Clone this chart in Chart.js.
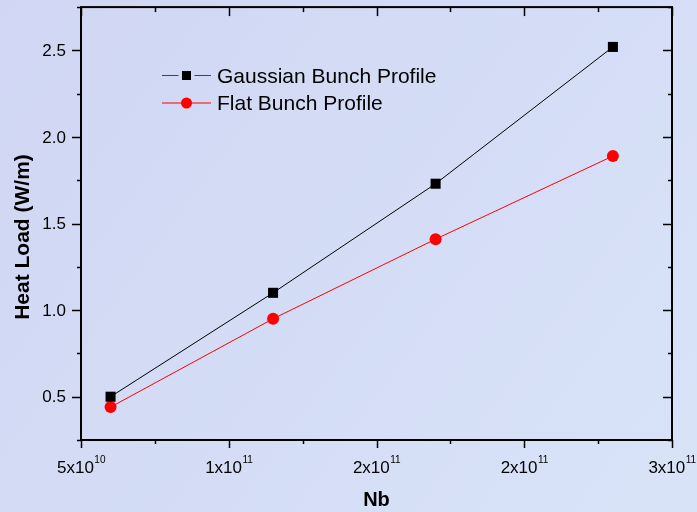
<!DOCTYPE html>
<html>
<head>
<meta charset="utf-8">
<script src="https://cdn.jsdelivr.net/npm/chart.js@4.4.1/dist/chart.umd.min.js"></script>
<style>
  html, body { margin: 0; padding: 0; background: #d5dcf5; }
  #wrap { width: 697px; height: 512px; }
</style>
</head>
<body>
<div id="wrap"><canvas id="c" width="697" height="512"></canvas></div>
<script>
// datos
const nb = [0.6e11, 1.15e11, 1.7e11, 2.3e11];
const gaussianLoad = [0.50, 1.10, 1.73, 2.52];
const flatLoad = [0.44, 0.95, 1.41, 1.89];
const seriesNames = ['Gaussian Bunch Profile', 'Flat Bunch Profile'];

// ticks (Origin redondea 1.5e11 y 2.5e11)
const xTicks = [0.5e11, 1e11, 1.5e11, 2e11, 2.5e11];
const xTickBase = ['5x10', '1x10', '2x10', '2x10', '3x10'];
const xTickExp = ['10', '11', '11', '11', '11'];
const yTicks = [0.5, 1.0, 1.5, 2.0, 2.5];
const yTickLabels = ['0.5', '1.0', '1.5', '2.0', '2.5'];
const xTitle = 'Nb';
const yTitle = 'Heat Load (W/m)';

const FONT = '"Liberation Sans", Arial, sans-serif';

// fondo, marco, ticks y textos
const ejes = {
  id: 'ejes',
  beforeDraw(chart) {
    const ctx = chart.ctx;
    const g = ctx.createLinearGradient(0, 0, chart.width, chart.height);
    g.addColorStop(0, '#d0d6f3');
    g.addColorStop(1, '#d8e3f8');
    ctx.save();
    ctx.fillStyle = g;
    ctx.fillRect(0, 0, chart.width, chart.height);
    ctx.restore();
  },
  beforeDatasetsDraw(chart) {
    const { ctx, chartArea: a } = chart;
    const x = chart.scales.x;
    const y = chart.scales.y;
    ctx.save();
    ctx.strokeStyle = '#000';
    ctx.lineWidth = 2;
    ctx.strokeRect(a.left, a.top, a.right - a.left, a.bottom - a.top);

    ctx.lineWidth = 1.5;
    const seg = (x1, y1, x2, y2) => {
      ctx.beginPath(); ctx.moveTo(x1, y1); ctx.lineTo(x2, y2); ctx.stroke();
    };
    const xStep = xTicks[1] - xTicks[0];
    const yStep = yTicks[1] - yTicks[0];
    for (let v = x.min; v <= x.max + 1; v += xStep / 2) {
      const px = Math.round(x.getPixelForValue(v)) + 0.5;
      const major = xTicks.some(t => Math.abs(t - v) < 1);
      seg(px, a.bottom, px, a.bottom + (major ? 8 : 4));
      seg(px, a.top, px, a.top + (major ? 9 : 5));
    }
    for (let v = y.min; v <= y.max + 1e-9; v += yStep / 2) {
      const py = Math.round(y.getPixelForValue(v)) + 0.5;
      const major = yTicks.some(t => Math.abs(t - v) < 1e-9);
      seg(a.left - (major ? 9 : 4), py, a.left, py);
      seg(a.right - (major ? 9 : 4), py, a.right, py);
    }

    ctx.fillStyle = '#000';
    // etiquetas eje y
    ctx.font = '17px ' + FONT;
    ctx.textAlign = 'right';
    ctx.textBaseline = 'middle';
    yTicks.forEach((v, i) => {
      ctx.fillText(yTickLabels[i], a.left - 15, y.getPixelForValue(v) + 1);
    });
    // etiquetas eje x con exponente
    ctx.textAlign = 'left';
    ctx.textBaseline = 'alphabetic';
    xTicks.forEach((v, i) => {
      ctx.font = '17px ' + FONT;
      const wb = ctx.measureText(xTickBase[i]).width;
      ctx.font = '10px ' + FONT;
      const we = ctx.measureText(xTickExp[i]).width;
      const x0 = x.getPixelForValue(v) - (wb + we) / 2;
      ctx.font = '17px ' + FONT;
      ctx.fillText(xTickBase[i], x0, a.bottom + 33);
      ctx.font = '10px ' + FONT;
      ctx.fillText(xTickExp[i], x0 + wb + 0.5, a.bottom + 23);
    });
    // titulos
    ctx.font = 'bold 20px ' + FONT;
    ctx.textAlign = 'center';
    ctx.fillText(xTitle, (a.left + a.right) / 2, 506);
    ctx.save();
    ctx.translate(29, 237);
    ctx.rotate(-Math.PI / 2);
    ctx.font = 'bold 21px ' + FONT;
    ctx.fillText(yTitle, 0, 0);
    ctx.restore();
    ctx.restore();
  },
  afterDraw(chart) {
    // leyenda dentro del area
    const ctx = chart.ctx;
    ctx.save();
    chart.data.datasets.forEach((ds, i) => {
      const cy = 75.5 + i * 27.5;
      ctx.strokeStyle = ds.pointStyle === 'rect' ? '#444' : ds.borderColor;
      ctx.lineWidth = 1;
      const gap = ds.pointStyle === 'rect' ? 8 : 0;
      ctx.beginPath();
      ctx.moveTo(162, cy); ctx.lineTo(186.5 - gap, cy);
      ctx.moveTo(186.5 + gap, cy); ctx.lineTo(211, cy);
      ctx.stroke();
      ctx.fillStyle = ds.pointBackgroundColor;
      if (ds.pointStyle === 'rect') {
        ctx.fillRect(182, cy - 4.5, 9, 9);
      } else {
        ctx.beginPath(); ctx.arc(186.5, cy, 5.5, 0, Math.PI * 2); ctx.fill();
      }
      ctx.fillStyle = '#000';
      ctx.font = '21px ' + FONT;
      ctx.textAlign = 'left';
      ctx.textBaseline = 'alphabetic';
      ctx.fillText(ds.label, 217, cy + 7);
    });
    ctx.restore();
  }
};

new Chart(document.getElementById('c'), {
  type: 'scatter',
  data: {
    datasets: [{
      label: seriesNames[0],
      data: nb.map((v, i) => ({ x: v, y: gaussianLoad[i] })),
      showLine: true,
      borderColor: '#000',
      borderWidth: 1,
      pointStyle: 'rect',
      pointRadius: 7.1,
      pointBorderWidth: 0,
      pointBackgroundColor: '#000'
    }, {
      label: seriesNames[1],
      data: nb.map((v, i) => ({ x: v, y: flatLoad[i] })),
      showLine: true,
      borderColor: '#ff0000',
      borderWidth: 1,
      pointStyle: 'circle',
      pointRadius: 6,
      pointBorderWidth: 0,
      pointBackgroundColor: '#ff0000'
    }]
  },
  options: {
    responsive: false,
    animation: false,
    devicePixelRatio: 1,
    layout: { padding: { left: 81, top: 7, right: 25, bottom: 72 } },
    plugins: { legend: { display: false }, tooltip: { enabled: false } },
    scales: {
      x: { type: 'linear', display: false, min: 0.5e11, max: 2.5e11 },
      y: { type: 'linear', display: false, min: 0.25, max: 2.75 }
    }
  },
  plugins: [ejes]
});
</script>
</body>
</html>
